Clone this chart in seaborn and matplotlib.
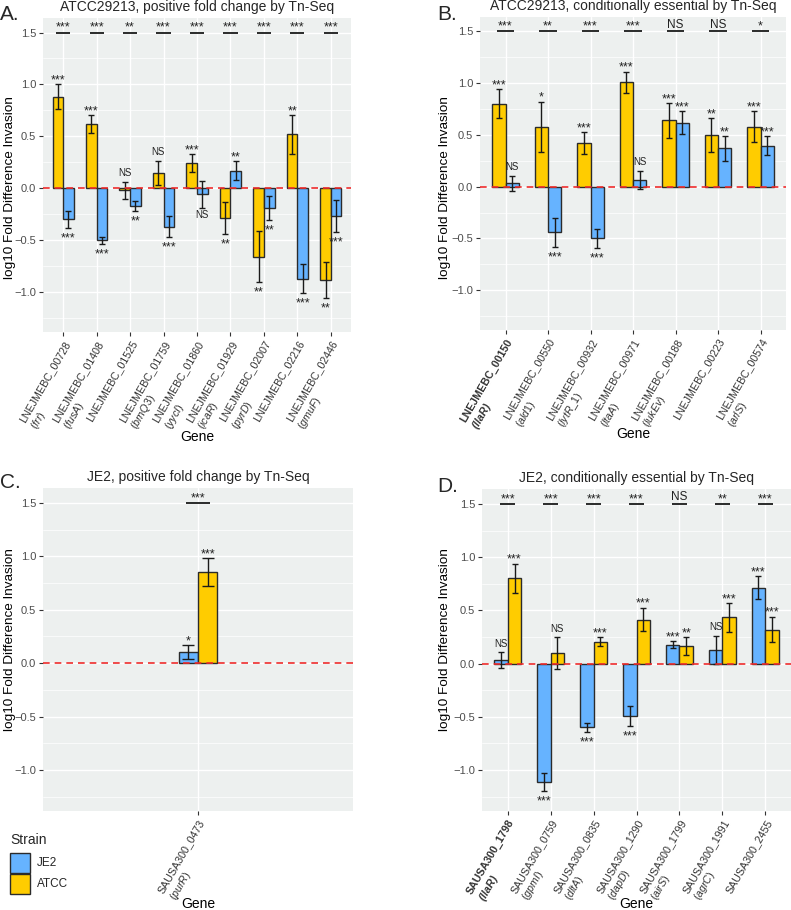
import matplotlib
matplotlib.use("Agg")
import matplotlib.pyplot as plt
from matplotlib.patches import Rectangle
import seaborn as sns
import pandas as pd
import numpy as np

# ---------------- data ----------------
A_genes = ["LNEJMEBC_00728", "LNEJMEBC_01408", "LNEJMEBC_01525", "LNEJMEBC_01759", "LNEJMEBC_01860",
           "LNEJMEBC_01929", "LNEJMEBC_02007", "LNEJMEBC_02216", "LNEJMEBC_02446"]
A_names = ["frr", "fusA", "", "brnQ3", "yycI", "icaR", "pyrD", "", "gmuF"]
A_atcc = [0.88, 0.62, -0.02, 0.15, 0.24, -0.29, -0.66, 0.52, -0.88]
A_atcc_err = [0.12, 0.085, 0.083, 0.117, 0.088, 0.155, 0.245, 0.186, 0.173]
A_je2 = [-0.30, -0.50, -0.17, -0.37, -0.06, 0.17, -0.19, -0.87, -0.27]
A_je2_err = [0.08, 0.035, 0.05, 0.098, 0.13, 0.088, 0.112, 0.136, 0.154]
A_atcc_sig = ["***", "***", "NS", "NS", "***", "**", "**", "**", "**"]
A_je2_sig = ["***", "***", "**", "***", "NS", "**", "**", "***", "***"]
A_top_sig = ["***", "***", "**", "***", "***", "***", "***", "***", "***"]

B_genes = ["LNEJMEBC_00150", "LNEJMEBC_00550", "LNEJMEBC_00932", "LNEJMEBC_00971",
           "LNEJMEBC_00188", "LNEJMEBC_00223", "LNEJMEBC_00574"]
B_names = ["llaR", "ald1", "lytR_1", "ltaA", "lukEv", "", "arlS"]
B_atcc = [0.80, 0.58, 0.42, 1.01, 0.64, 0.50, 0.58]
B_atcc_err = [0.14, 0.24, 0.106, 0.10, 0.17, 0.164, 0.15]
B_je2 = [0.035, -0.44, -0.50, 0.064, 0.62, 0.37, 0.395]
B_je2_err = [0.072, 0.14, 0.09, 0.09, 0.11, 0.12, 0.093]
B_atcc_sig = ["***", "*", "***", "***", "***", "**", "***"]
B_je2_sig = ["NS", "***", "***", "NS", "***", "**", "***"]
B_top_sig = ["***", "**", "***", "***", "NS", "NS", "*"]

C_genes = ["SAUSA300_0473"]
C_names = ["purR"]
C_je2 = [0.103]
C_je2_err = [0.064]
C_atcc = [0.85]
C_atcc_err = [0.132]
C_je2_sig = ["*"]
C_atcc_sig = ["***"]
C_top_sig = ["***"]

D_genes = ["SAUSA300_1798", "SAUSA300_0759", "SAUSA300_0835", "SAUSA300_1290",
           "SAUSA300_1799", "SAUSA300_1991", "SAUSA300_2455"]
D_names = ["llaR", "gpmI", "dltA", "dapD", "airS", "agrC", ""]
D_je2 = [0.031, -1.11, -0.60, -0.495, 0.179, 0.129, 0.712]
D_je2_err = [0.074, 0.085, 0.044, 0.092, 0.031, 0.133, 0.11]
D_atcc = [0.80, 0.10, 0.204, 0.414, 0.163, 0.433, 0.32]
D_atcc_err = [0.138, 0.147, 0.042, 0.11, 0.082, 0.132, 0.12]
D_je2_sig = ["NS", "***", "***", "***", "***", "NS", "***"]
D_atcc_sig = ["***", "NS", "***", "***", "**", "***", "***"]
D_top_sig = ["***", "***", "***", "***", "NS", "**", "***"]

titles = ["ATCC29213, positive fold change by Tn-Seq",
          "ATCC29213, conditionally essential by Tn-Seq",
          "JE2, positive fold change by Tn-Seq",
          "JE2, conditionally essential by Tn-Seq"]
letters = ["A.", "B.", "C.", "D."]
strains = ["JE2", "ATCC"]
yticks = [-1.0, -0.5, 0.0, 0.5, 1.0, 1.5]

# ---------------- style ----------------
sns.set_theme(style="darkgrid")
plt.rcParams["font.family"] = ["Liberation Sans", "DejaVu Sans"]
plt.rcParams["mathtext.fontset"] = "custom"
plt.rcParams["mathtext.rm"] = "Liberation Sans"
plt.rcParams["mathtext.it"] = "Liberation Sans:italic"
plt.rcParams["mathtext.bf"] = "Liberation Sans:bold"
plt.rcParams["mathtext.bfit"] = "Liberation Sans:italic:bold"

BLUE = "#66B3FF"
YELLOW = "#FFCC00"
BG = "#EDF0EF"
EDGE = "#2b2b2b"
palette = {"JE2": BLUE, "ATCC": YELLOW}

W, H = 791, 910
fig = plt.figure(figsize=(W / 100, H / 100), dpi=100)


def rect(l, t, r, b):
    return [l / W, 1 - b / H, (r - l) / W, (b - t) / H]


def make_df(genes, atcc, atcc_err, je2, je2_err):
    rows = []
    for g, v, e in zip(genes, je2, je2_err):
        rows.append({"Gene": g, "Strain": "JE2", "val": v, "err": e})
    for g, v, e in zip(genes, atcc, atcc_err):
        rows.append({"Gene": g, "Strain": "ATCC", "val": v, "err": e})
    return pd.DataFrame(rows)


def fmt_label(gene, name, bold=False):
    if not name:
        return gene
    n = name.replace("_", r"\_")
    if bold:
        return gene + "\n" + r"$\mathbfit{(" + n + ")}$"
    return gene + "\n" + r"$\mathit{(" + n + ")}$"


def sig_text(ax, x, y, label, above):
    if label == "NS":
        fs = 7
        off = 2.5 if above else -1.8
    else:
        fs = 9
        off = -1.5 if above else -3.2
    ax.annotate(label, (x, y), xytext=(0, off), textcoords="offset points",
                ha="center", va="bottom" if above else "top", fontsize=fs, color="#222222")


def panel(pos, genes, names, atcc, atcc_err, je2, je2_err, sig_atcc, sig_je2, top_sig,
          order, width, brk, capsize, title, letter, letter_pos, bold_first, ylab_px, xlab_px):
    l, t, r, b = pos
    ax = fig.add_axes(rect(*pos))
    df = make_df(genes, atcc, atcc_err, je2, je2_err)
    sns.barplot(data=df, x="Gene", y="val", hue="Strain", hue_order=order, order=genes,
                palette=palette, saturation=1, width=width, gap=0, errorbar=None, ax=ax,
                edgecolor=EDGE, linewidth=1.0, legend=False)
    vals = {"JE2": (je2, je2_err, sig_je2), "ATCC": (atcc, atcc_err, sig_atcc)}
    for ci, strain in enumerate(order):
        v, e, s = vals[strain]
        bars = ax.containers[ci]
        xs = [bb.get_x() + bb.get_width() / 2 for bb in bars]
        ax.errorbar(xs, v, yerr=e, fmt="none", ecolor="#1a1a1a", elinewidth=1.0,
                    capsize=capsize, capthick=1.0, zorder=4)
        for x, val, err, lab in zip(xs, v, e, s):
            above = val > -0.05
            y = val + err if above else val - err
            sig_text(ax, x, y, lab, above)
    for i, lab in enumerate(top_sig):
        ax.plot([i - brk, i + brk], [1.5, 1.5], color="#1a1a1a", lw=1.3, solid_capstyle="butt", zorder=4)
        if lab == "NS":
            ax.annotate(lab, (i, 1.5), xytext=(0, 0.5), textcoords="offset points",
                        ha="center", va="bottom", fontsize=8.5, color="#222222")
        else:
            ax.annotate(lab, (i, 1.5), xytext=(0, -1.0), textcoords="offset points",
                        ha="center", va="bottom", fontsize=9, color="#222222")
    ax.axhline(0, color="#EE2C2C", lw=1.2, ls=(0, (4, 3)), zorder=5)
    n = len(genes)
    ax.set_xlim(-0.6, n - 0.4)
    ax.set_ylim(-1.385, 1.64)
    ax.set_yticks(yticks)
    ax.set_yticklabels([f"{tk:.1f}".replace("-", "\u2212") for tk in yticks])
    ax.set_yticks([-1.25, -0.75, -0.25, 0.25, 0.75, 1.25], minor=True)
    ax.set_xticks(range(n))
    labels = [fmt_label(g, nm, bold=(bold_first and i == 0)) for i, (g, nm) in enumerate(zip(genes, names))]
    ax.set_xticklabels(labels, rotation=60, ha="right", va="top", rotation_mode="anchor",
                       multialignment="left", fontsize=7.7, color="#333333")
    if bold_first:
        ax.get_xticklabels()[0].set_fontweight("bold")
    ax.set_facecolor(BG)
    ax.grid(True, which="major", color="white", lw=1.0)
    ax.grid(True, which="minor", axis="y", color="white", lw=0.5)
    ax.set_axisbelow(True)
    for sp in ax.spines.values():
        sp.set_visible(False)
    ax.tick_params(axis="both", which="major", length=3, width=0.8, color="#333333",
                   labelsize=8, labelcolor="#4D4D4D", pad=2, bottom=True, left=True)
    ax.tick_params(axis="x", labelsize=7.7, labelcolor="#333333")
    ax.tick_params(which="minor", length=0)
    ax.set_xlabel("Gene", fontsize=10, color="black", va="top")
    ax.xaxis.set_label_coords(0.5, (b - xlab_px) / (b - t))
    ax.set_ylabel("log10 Fold Difference Invasion", fontsize=9.7, color="black", va="center")
    ax.yaxis.set_label_coords((ylab_px[0] - l) / (r - l), (b - ylab_px[1]) / (b - t))
    ax.set_title(title, fontsize=10, pad=5)
    fig.text(letter_pos[0] / W, 1 - letter_pos[1] / H, letter, fontsize=15,
             ha="left", va="center")
    return ax


panel((43, 18, 351, 332), A_genes, A_names, A_atcc, A_atcc_err, A_je2, A_je2_err,
      A_atcc_sig, A_je2_sig, A_top_sig, ["ATCC", "JE2"], 0.63, 0.21, 2.0,
      titles[0], letters[0], (0, 15), False, (10, 188), 430)
panel((480, 17, 786, 330), B_genes, B_names, B_atcc, B_atcc_err, B_je2, B_je2_err,
      B_atcc_sig, B_je2_sig, B_top_sig, ["ATCC", "JE2"], 0.63, 0.21, 2.0,
      titles[1], letters[1], (437, 15), True, (445, 188), 427)
panel((43, 488, 353, 811), C_genes, C_names, C_atcc, C_atcc_err, C_je2, C_je2_err,
      C_atcc_sig, C_je2_sig, C_top_sig, ["JE2", "ATCC"], 0.15, 0.045, 4.0,
      titles[2], letters[2], (0, 482), False, (10, 640), 897)
panel((482, 489, 791, 811), D_genes, D_names, D_atcc, D_atcc_err, D_je2, D_je2_err,
      D_atcc_sig, D_je2_sig, D_top_sig, ["JE2", "ATCC"], 0.63, 0.17, 2.0,
      titles[3], letters[3], (437, 487), True, (445, 640), 897)

# legend (Strain)
fig.text(10 / W, 1 - 840 / H, "Strain", fontsize=10, ha="left", va="center")
for i, s in enumerate(strains):
    top = 853 + i * 21
    fig.patches.append(Rectangle((10 / W, 1 - (top + 20) / H), 20 / W, 20 / H,
                                 transform=fig.transFigure, facecolor=palette[s],
                                 edgecolor=EDGE, linewidth=1.0))
    fig.text(37 / W, 1 - (top + 10) / H, s, fontsize=8.5, ha="left", va="center")

fig.savefig("out.png", dpi=100)
